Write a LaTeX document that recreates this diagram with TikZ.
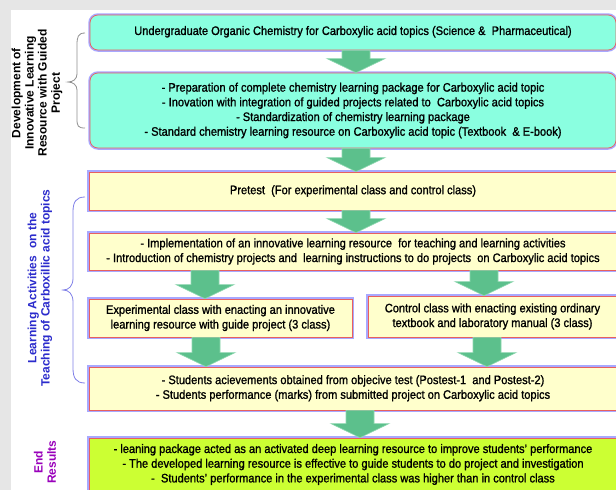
\documentclass[tikz,border=0pt]{standalone}
\usepackage{fontspec}
\setmainfont{Liberation Sans}[FakeStretch=0.9, FakeBold=1.2]
\newfontfamily\lblfont{Liberation Sans}
\usetikzlibrary{calc}
\definecolor{bggray}{HTML}{E6E6E6}
\definecolor{aquafill}{HTML}{8AFFE0}
\definecolor{palefill}{HTML}{FFFFCC}
\definecolor{limefill}{HTML}{CCFF33}
\definecolor{glow}{HTML}{A8A8FF}
\definecolor{edgered}{HTML}{E86060}
\definecolor{arrgreen}{HTML}{5CC08C}
\definecolor{arredge}{HTML}{8ED8B0}
\definecolor{bracegray}{HTML}{909090}
\definecolor{braceblue}{HTML}{8080E8}
\definecolor{lblblue}{HTML}{2B2BCC}
\definecolor{lblpurple}{HTML}{9900BB}
\tikzset{
  box/.style={draw=edgered, line width=0.7pt, preaction={draw=glow, line width=3.5pt},
    inner sep=0pt, align=center, font=\fontsize{12.3}{14.7}\selectfont},
  aquabox/.style={box, fill=aquafill, rounded corners=8pt},
  palebox/.style={box, fill=palefill},
  limebox/.style={box, fill=limefill},
  blockarr/.style={fill=arrgreen, draw=arredge, line width=0.6pt},
  sidelbl/.style={rotate=90, align=center, inner sep=0pt,
    font=\lblfont\bfseries\fontsize{12}{13.2}\selectfont}
}
\newcommand\blockarrow[3]{%
  \path let \p1=(#2.south), \p2=(#3.north) in [blockarr]
    (#1pt-14pt,\y1) -- (#1pt+14pt,\y1) -- (#1pt+14pt,\y2+14pt) -- (#1pt+29pt,\y2+14pt)
    -- (#1pt,\y2) -- (#1pt-29pt,\y2+14pt) -- (#1pt-14pt,\y2+14pt) -- cycle;}
\begin{document}
\begin{tikzpicture}[x=1pt,y=-1pt]
\useasboundingbox (0,0) rectangle (616,490);
\clip (0,0) rectangle (616,490);
\fill[bggray] (0,0) rectangle (616,490);
\fill[white] (11,10) rectangle (616,490);

% boxes
\node[aquabox, minimum width=526pt, minimum height=35pt] (b1) at (353,32.5)
  {\raisebox{4pt}{Undergraduate Organic Chemistry for Carboxylic acid topics (Science \&\ \ Pharmaceutical)}};
\node[aquabox, minimum width=526pt, minimum height=75pt] (b2) at (353,110.5)
  {- Preparation of complete chemistry learning package for Carboxylic acid topic\\
   - Inovation with integration of guided projects related to\ \ Carboxylic acid topics\\
   - Standardization of chemistry learning package\\
   - Standard chemistry learning resource on Carboxylic acid topic (Textbook\ \ \& E-book)};
\node[palebox, minimum width=528pt, minimum height=38pt] (b3) at (353,191)
  {Pretest\ \ (For experimental class and control class)};
\node[palebox, minimum width=528pt, minimum height=37pt] (b4) at (353,251.5)
  {- Implementation of an innovative learning resource\ \ for teaching and learning activities\\
   - Introduction of chemistry projects and\ \ learning instructions to do projects\ \ on Carboxylic acid topics};
\node[palebox, minimum width=263pt, minimum height=38pt] (b5) at (220.5,318)
  {Experimental class with enacting an innovative\\ learning resource with guide project (3 class)};
\node[palebox, minimum width=249pt, minimum height=41pt] (b6) at (492.5,316.5)
  {Control class with enacting existing ordinary\\ textbook and laboratory manual (3 class)};
\node[palebox, minimum width=528pt, minimum height=43pt] (b7) at (353,388.5)
  {\raisebox{3pt}{\begin{tabular}{@{}c@{}}- Students acievements obtained from objecive test (Postest-1\ \ and Postest-2)\\
   - Students performance (marks) from submitted project on Carboxylic acid topics\end{tabular}}};
\node[limebox, minimum width=528pt, minimum height=53pt] (b8) at (353,464.5)
  {- leaning package acted as an activated deep learning resource to improve students' performance\\
   - The developed learning resource is effective to guide students to do project and investigation\\
   -\ \ Students' performance in the experimental class was higher than in control class};

% block arrows
\blockarrow{356}{b1}{b2}
\blockarrow{356}{b2}{b3}
\blockarrow{356}{b3}{b4}
\blockarrow{205}{b4}{b5}
\blockarrow{484}{b4}{b6}
\blockarrow{206}{b5}{b7}
\blockarrow{487}{b6}{b7}
\blockarrow{360}{b7}{b8}

% braces
\draw[bracegray, line width=0.8pt] (85,33) .. controls (78,33) and (77,37) .. (77,45) -- (77,74)
  .. controls (77,79) and (73,82) .. (68,82) .. controls (73,82) and (77,85) .. (77,90)
  -- (77,119) .. controls (77,126) and (78,128) .. (85,128);
\draw[braceblue, line width=0.8pt] (85,197) .. controls (76,197) and (73,202) .. (73,212) -- (73,278)
  .. controls (73,286) and (69,290) .. (63,290) .. controls (69,290) and (73,294) .. (73,302)
  -- (73,368) .. controls (73,378) and (76,383) .. (85,383);

% side labels
\node[sidelbl, text=black] (l1) at (37,93)
  {Development of\\Innovative Learning\\Resource with Guided\\Project};
\node[sidelbl, text=lblblue] (l2) at (40,288)
  {Learning Activities\ \ on the\\Teaching of Carboxillic acid topics};
\node[sidelbl, text=lblpurple] (l3) at (45,462) {End\\Results};
\end{tikzpicture}
\end{document}
